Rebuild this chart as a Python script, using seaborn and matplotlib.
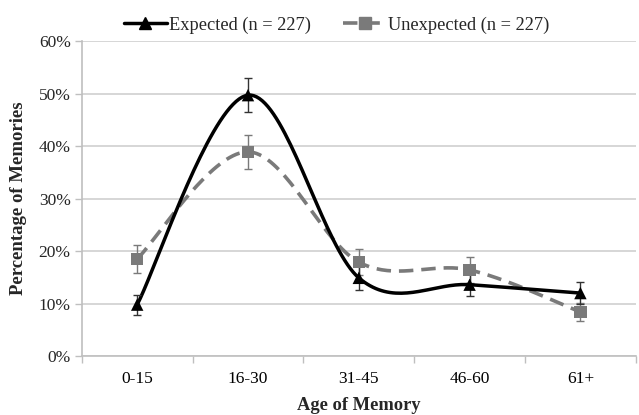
import numpy as np
import pandas as pd
import matplotlib
matplotlib.use("Agg")
import matplotlib.pyplot as plt
import seaborn as sns
from matplotlib.lines import Line2D

categories = ["0-15", "16-30", "31-45", "46-60", "61+"]
expected = [9.8, 49.7, 14.9, 13.6, 12.0]
expected_err = [1.9, 3.3, 2.3, 2.2, 2.1]
unexpected = [18.5, 38.9, 17.9, 16.4, 8.4]
unexpected_err = [2.6, 3.2, 2.5, 2.4, 1.8]
y_ticks = [0, 10, 20, 30, 40, 50, 60]

sns.set_theme(style="white")
plt.rcParams['font.family'] = ['Liberation Serif', 'DejaVu Serif']

def excel_smooth(xs, ys, n=40):
    xs = np.asarray(xs, float); ys = np.asarray(ys, float)
    P = np.column_stack([xs, ys])
    out = []
    for i in range(len(P) - 1):
        p0 = P[i - 1] if i > 0 else P[i]
        p1 = P[i]; p2 = P[i + 1]
        p3 = P[i + 2] if i + 2 < len(P) else P[i + 1]
        c1 = p1 + (p2 - p0) / 6.0
        c2 = p2 - (p3 - p1) / 6.0
        t = np.linspace(0, 1, n)[:, None]
        seg = (1 - t) ** 3 * p1 + 3 * (1 - t) ** 2 * t * c1 + 3 * (1 - t) * t ** 2 * c2 + t ** 3 * p2
        out.append(seg if i == 0 else seg[1:])
    s = np.vstack(out)
    return s[:, 0], s[:, 1]

x = np.arange(len(categories))
df = pd.DataFrame({"x": np.concatenate([x, x]),
                   "y": expected + unexpected,
                   "series": ["Expected (n = 227)"] * 5 + ["Unexpected (n = 227)"] * 5})

fig = plt.figure(figsize=(6.39, 4.15), dpi=100)
ax = fig.add_axes([0.128, 0.142, 0.867, 0.759])

black = "#000000"
gray = "#7a7a7a"

sx, sy = excel_smooth(x, unexpected)
ax.plot(sx, sy, color=gray, lw=2.6, dashes=(4, 2.2), zorder=3)
sx, sy = excel_smooth(x, expected)
ax.plot(sx, sy, color=black, lw=2.5, zorder=4)

ax.errorbar(x, unexpected, yerr=unexpected_err, fmt="none", ecolor=gray, elinewidth=1, capsize=3, capthick=1, zorder=3)
ax.errorbar(x, expected, yerr=expected_err, fmt="none", ecolor="#333333", elinewidth=1, capsize=3, capthick=1, zorder=4)

sns.scatterplot(data=df, x="x", y="y", hue="series", style="series",
                markers={"Expected (n = 227)": "^", "Unexpected (n = 227)": "s"},
                palette={"Expected (n = 227)": black, "Unexpected (n = 227)": gray},
                s=80, edgecolor="none", legend=False, ax=ax, zorder=5)

ax.set_xlim(-0.5, len(categories) - 0.5)
ax.set_ylim(0, 60)
ax.set_yticks(y_ticks)
ax.set_yticklabels([f"{v}%" for v in y_ticks])
ax.set_xticks(x)
ax.set_xticklabels(categories)
ax.set_xticks(np.arange(-0.5, len(categories)), minor=True)
ax.tick_params(axis="x", which="major", length=0, pad=11, labelsize=12.5, colors="black")
ax.tick_params(axis="x", which="minor", length=5, width=1, color="#bfbfbf", direction="out", bottom=True)
ax.tick_params(axis="y", length=5, width=1, color="#bfbfbf", labelsize=12.5, pad=3, left=True)
ax.grid(axis="y", color="#cfcfcf", lw=1.2)
ax.grid(axis="x", visible=False)
ax.set_axisbelow(True)
for s in ["top", "right"]:
    ax.spines[s].set_visible(False)
for s in ["left", "bottom"]:
    ax.spines[s].set_color("#bfbfbf")
    ax.spines[s].set_linewidth(1.2)

ax.set_xlabel("Age of Memory", fontsize=13.3, fontweight="bold", labelpad=7)
ax.set_ylabel("Percentage of Memories", fontsize=13.5, fontweight="bold")
ax.yaxis.set_label_coords(-0.099, 0.5)

handles = [Line2D([0], [0], color=black, lw=2.5, marker="^", markersize=9),
           Line2D([0], [0], color=gray, lw=2.6, dashes=(4, 2.2), marker="s", markersize=9)]
fig.legend(handles, ["Expected (n = 227)", "Unexpected (n = 227)"], loc="upper center",
           bbox_to_anchor=(0.527, 1.0), ncol=2, frameon=False, fontsize=13.2,
           handlelength=2.35, columnspacing=1.75, handletextpad=0.12)

fig.savefig("out.png", dpi=100)
